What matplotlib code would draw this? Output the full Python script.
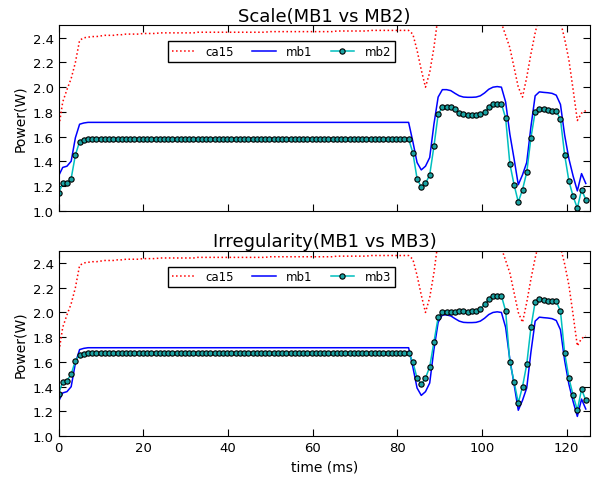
import numpy as np
import matplotlib
matplotlib.use('Agg')
import matplotlib.pyplot as plt

# power traces sampled every ~1 ms
time_ms = np.arange(126) * 0.996

ca15 = [1.66, 1.88, 1.98, 2.07, 2.20, 2.38, 2.40, 2.405, 2.41, 2.41,
        2.415, 2.42, 2.42, 2.42, 2.425, 2.425, 2.43, 2.43, 2.43, 2.43,
        2.435, 2.435, 2.435, 2.435, 2.44, 2.44, 2.44, 2.44, 2.44, 2.44,
        2.44, 2.44, 2.44, 2.445, 2.445, 2.445, 2.445, 2.445, 2.445, 2.445,
        2.445, 2.445, 2.445, 2.445, 2.445, 2.445, 2.445, 2.445, 2.445, 2.445,
        2.45, 2.45, 2.45, 2.45, 2.45, 2.45, 2.45, 2.45, 2.45, 2.45,
        2.45, 2.45, 2.45, 2.45, 2.45, 2.45, 2.455, 2.455, 2.455, 2.455,
        2.455, 2.455, 2.455, 2.455, 2.46, 2.46, 2.46, 2.46, 2.46, 2.46,
        2.46, 2.46, 2.46, 2.46, 2.43, 2.30, 2.14, 2.00, 2.12, 2.32,
        2.58, 2.66, 2.70, 2.72, 2.73, 2.73, 2.72, 2.72, 2.71, 2.70,
        2.69, 2.67, 2.64, 2.61, 2.57, 2.52, 2.42, 2.32, 2.16, 2.00,
        1.92, 2.08, 2.27, 2.44, 2.58, 2.66, 2.68, 2.66, 2.61, 2.53,
        2.39, 2.22, 1.98, 1.73, 1.79, 1.81]

mb1 = [1.28, 1.35, 1.36, 1.40, 1.59, 1.70, 1.71, 1.715, 1.715, 1.715,
       1.715, 1.715, 1.715, 1.715, 1.715, 1.715, 1.715, 1.715, 1.715, 1.715,
       1.715, 1.715, 1.715, 1.715, 1.715, 1.715, 1.715, 1.715, 1.715, 1.715,
       1.715, 1.715, 1.715, 1.715, 1.715, 1.715, 1.715, 1.715, 1.715, 1.715,
       1.715, 1.715, 1.715, 1.715, 1.715, 1.715, 1.715, 1.715, 1.715, 1.715,
       1.715, 1.715, 1.715, 1.715, 1.715, 1.715, 1.715, 1.715, 1.715, 1.715,
       1.715, 1.715, 1.715, 1.715, 1.715, 1.715, 1.715, 1.715, 1.715, 1.715,
       1.715, 1.715, 1.715, 1.715, 1.715, 1.715, 1.715, 1.715, 1.715, 1.715,
       1.715, 1.715, 1.715, 1.715, 1.56, 1.39, 1.33, 1.36, 1.43, 1.70,
       1.92, 1.98, 1.98, 1.972, 1.95, 1.93, 1.92, 1.918, 1.918, 1.92,
       1.93, 1.953, 1.983, 2.0, 2.005, 2.0, 1.88, 1.62, 1.42, 1.21,
       1.29, 1.39, 1.68, 1.93, 1.962, 1.958, 1.955, 1.95, 1.935, 1.86,
       1.61, 1.42, 1.28, 1.16, 1.30, 1.22]

mb2 = [1.14, 1.22, 1.22, 1.26, 1.45, 1.56, 1.575, 1.58, 1.58, 1.58,
       1.58, 1.58, 1.58, 1.58, 1.58, 1.58, 1.58, 1.58, 1.58, 1.58,
       1.58, 1.58, 1.58, 1.58, 1.58, 1.58, 1.58, 1.58, 1.58, 1.58,
       1.58, 1.58, 1.58, 1.58, 1.58, 1.58, 1.58, 1.58, 1.58, 1.58,
       1.58, 1.58, 1.58, 1.58, 1.58, 1.58, 1.58, 1.58, 1.58, 1.58,
       1.58, 1.58, 1.58, 1.58, 1.58, 1.58, 1.58, 1.58, 1.58, 1.58,
       1.58, 1.58, 1.58, 1.58, 1.58, 1.58, 1.58, 1.58, 1.58, 1.58,
       1.58, 1.58, 1.58, 1.58, 1.58, 1.58, 1.58, 1.58, 1.58, 1.58,
       1.58, 1.58, 1.58, 1.58, 1.47, 1.26, 1.19, 1.22, 1.29, 1.52,
       1.78, 1.84, 1.84, 1.84, 1.82, 1.79, 1.78, 1.775, 1.775, 1.775,
       1.78, 1.80, 1.84, 1.86, 1.865, 1.865, 1.75, 1.38, 1.21, 1.07,
       1.17, 1.31, 1.59, 1.80, 1.82, 1.82, 1.815, 1.81, 1.805, 1.74,
       1.45, 1.24, 1.115, 1.02, 1.17, 1.09]

mb3 = [1.34, 1.44, 1.45, 1.50, 1.61, 1.66, 1.665, 1.67, 1.67, 1.67,
       1.67, 1.67, 1.67, 1.67, 1.67, 1.67, 1.67, 1.67, 1.67, 1.67,
       1.67, 1.67, 1.67, 1.67, 1.67, 1.67, 1.67, 1.67, 1.67, 1.67,
       1.67, 1.67, 1.67, 1.67, 1.67, 1.67, 1.67, 1.67, 1.67, 1.67,
       1.67, 1.67, 1.67, 1.67, 1.67, 1.67, 1.67, 1.67, 1.67, 1.67,
       1.67, 1.67, 1.67, 1.67, 1.67, 1.67, 1.67, 1.67, 1.67, 1.67,
       1.67, 1.67, 1.67, 1.67, 1.67, 1.67, 1.67, 1.67, 1.67, 1.67,
       1.67, 1.67, 1.67, 1.67, 1.67, 1.67, 1.67, 1.67, 1.67, 1.67,
       1.67, 1.67, 1.67, 1.67, 1.60, 1.47, 1.42, 1.47, 1.56, 1.76,
       1.96, 2.007, 2.007, 2.007, 2.0, 2.012, 2.012, 2.007, 2.012, 2.012,
       2.026, 2.07, 2.107, 2.13, 2.13, 2.135, 2.012, 1.60, 1.44, 1.27,
       1.40, 1.58, 1.88, 2.085, 2.107, 2.10, 2.095, 2.09, 2.09, 2.01,
       1.67, 1.47, 1.33, 1.21, 1.38, 1.29]

plt.rcParams['font.family'] = 'DejaVu Sans'
plt.rcParams['font.size'] = 9.5

fig = plt.figure(figsize=(5.97, 4.81), dpi=100)
ax1 = fig.add_axes([0.098, 0.560, 0.891, 0.385])
ax2 = fig.add_axes([0.098, 0.091, 0.891, 0.386])


def draw_panel(ax, other, other_name, title):
    ax.plot(time_ms, ca15, 'r:', linewidth=1.1, label='ca15')
    ax.plot(time_ms, mb1, 'b-', linewidth=1.1, label='mb1')
    ax.plot(time_ms, other, '-', color='c', linewidth=1.1, marker='o',
            markersize=3.8, markerfacecolor='#1aa3a3', markeredgecolor='k',
            markeredgewidth=0.8, label=other_name)
    ax.set_xlim(0, 125.6)
    ax.set_ylim(1.0, 2.5)
    ax.set_yticks(np.arange(1.0, 2.41, 0.2))
    ax.set_xticks(range(0, 121, 20))
    ax.set_ylabel('Power(W)', fontsize=10)
    ax.set_title(title, fontsize=13, pad=3)
    ax.tick_params(direction='in', top=True, right=True, length=5)
    leg = ax.legend(loc='upper left', bbox_to_anchor=(0.206, 0.9135),
                    borderaxespad=0, ncol=3, fontsize=8.5, fancybox=False,
                    framealpha=1, edgecolor='k', handlelength=2.0,
                    handletextpad=0.9, columnspacing=1.5, borderpad=0.3,
                    numpoints=1)
    leg.get_frame().set_linewidth(1.0)


draw_panel(ax1, mb2, 'mb2', 'Scale(MB1 vs MB2)')
draw_panel(ax2, mb3, 'mb3', 'Irregularity(MB1 vs MB3)')
ax1.set_xticklabels([])
ax2.set_xlabel('time (ms)', fontsize=10)

plt.savefig('out.png', dpi=100)
